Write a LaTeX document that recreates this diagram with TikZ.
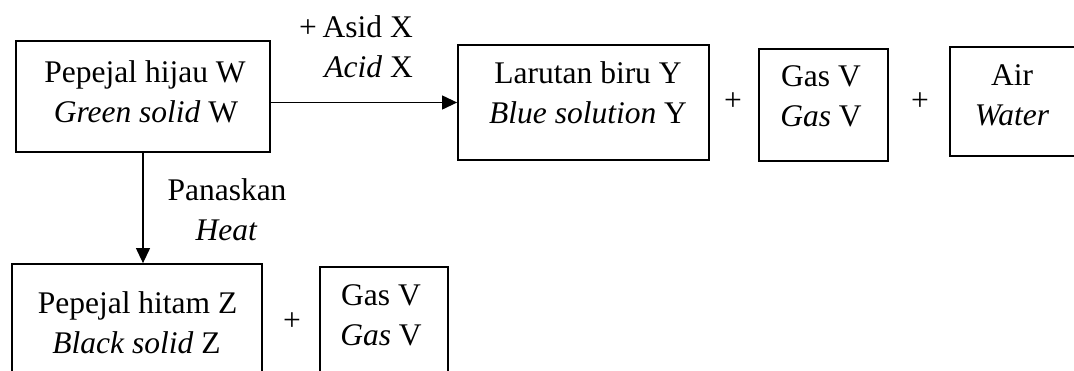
\documentclass[tikz,border=0pt]{standalone}
\usepackage{fontspec}
\setmainfont{Liberation Serif}
\usetikzlibrary{arrows.meta}
\tikzset{
  txt/.style={font=\fontsize{31.5}{40}\selectfont, inner sep=0pt, anchor=base},
  box/.style={draw, line width=1.8pt, inner sep=0pt},
  conn/.style={line width=1.2pt, -{Triangle[length=15pt,width=14pt]}},
  plus/.style={font=\fontsize{31.5}{40}\selectfont, inner sep=0pt}
}
\begin{document}
\begin{tikzpicture}[x=1pt,y=-1pt]
\clip (0,0) rectangle (1074,370);
\fill[white] (0,0) rectangle (1074,370);
% boxes
\node[box, minimum width=254pt, minimum height=111pt] (W) at (143,96.5) {};
\node[box, minimum width=251pt, minimum height=115pt] (Y) at (583.5,102.5) {};
\node[box, minimum width=129pt, minimum height=112pt] (G1) at (823.5,105) {};
\node[box, minimum width=126pt, minimum height=109pt] (A) at (1013,101.5) {};
\node[box, minimum width=250pt, minimum height=121pt] (Z) at (137,324.5) {};
\node[box, minimum width=128pt, minimum height=118pt] (G2) at (384,326) {};
% texts
\node[txt] (W1) at (145,82) {Pepejal hijau W};
\node[txt] (W2) at (146,122) {\textit{Green solid} W};
\node[txt] (Y1) at (588,83) {Larutan biru Y};
\node[txt] (Y2) at (588,123) {\textit{Blue solution} Y};
\node[txt] (G11) at (821,86) {Gas V};
\node[txt] (G12) at (821,126) {\textit{Gas} V};
\node[txt] (A1) at (1012,85) {Air};
\node[txt] (A2) at (1012,125) {\textit{Water}};
\node[txt] (Z1) at (137.5,313) {Pepejal hitam Z};
\node[txt] (Z2) at (136.5,353) {\textit{Black solid} Z};
\node[txt] (G21) at (381,305) {Gas V};
\node[txt] (G22) at (381,345) {\textit{Gas} V};
% plus signs
\node[plus] (p1) at (733,102) {+};
\node[plus] (p2) at (920,102) {+};
\node[plus] (p3) at (292,322) {+};
% connectors
\draw[conn] (W.east |- Y.west) -- (Y.west);
\draw[conn] (W.south) -- (W.south |- Z.north);
% labels
\node[txt, anchor=base east] (acid1) at (413,37) {+\hspace{0.18em}Asid X};
\node[txt, anchor=base east] (acid2) at (413,77) {\textit{Acid} X};
\node[txt] (heat1) at (227,200) {Panaskan};
\node[txt] (heat2) at (226.5,240) {\textit{Heat}};
\end{tikzpicture}
\end{document}
